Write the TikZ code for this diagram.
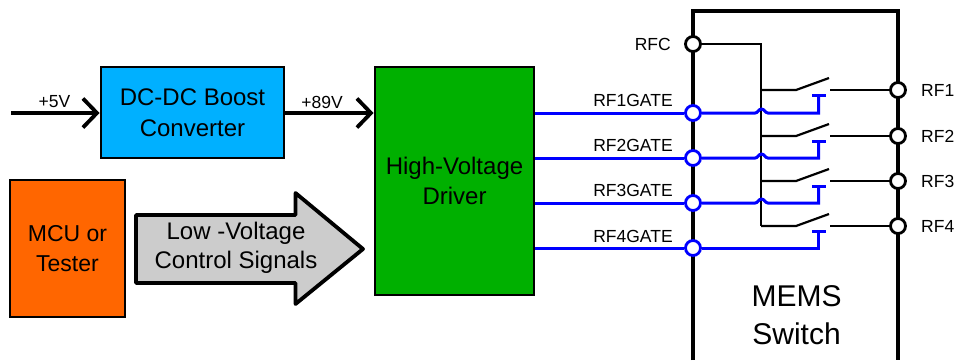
\documentclass[tikz,border=0pt]{standalone}
\usepackage{fontspec}
\setmainfont{Liberation Sans}
\usetikzlibrary{arrows.meta}
\definecolor{boostblue}{RGB}{0,176,255}
\definecolor{drivergreen}{RGB}{0,176,0}
\definecolor{mcuorange}{RGB}{255,102,0}
\definecolor{arrowgray}{RGB}{204,204,204}
\begin{document}
\begin{tikzpicture}
		[x=1pt,y=-1pt,
		every node/.style={align=center,inner sep=0pt},
		blockbox/.style={draw=black,line width=2.8pt,font=\fontsize{24}{31}\selectfont,minimum width=#1},
		smalltext/.style={font=\fontsize{17.5}{20}\selectfont},
		power/.style={line width=3.8pt,-{Straight Barb[length=14pt,width=29pt]}},
		wire/.style={line width=2.2pt},
		gatewire/.style={line width=3pt,draw=blue},
		port/.style={circle,draw=black,fill=white,line width=2.8pt,minimum size=15pt},
		gateport/.style={port,draw=blue},
		]

		\useasboundingbox (0,0) rectangle (957,360);

		\node[blockbox=183pt,fill=boostblue,minimum height=91pt] (boost) at (192.5,112.5) {DC-DC Boost\\Converter};
		\node[blockbox=159pt,fill=drivergreen,font=\fontsize{24}{30}\selectfont,minimum height=228pt] (driver) at (454.5,181) {High-Voltage\\Driver};
		\node[blockbox=115pt,fill=mcuorange,font=\fontsize{23}{30}\selectfont,minimum height=137pt] (mcu) at (67.5,248.5) {MCU or\\Tester};

		\draw[line width=3.8pt,line join=round,fill=arrowgray] (136,215) -- (295.5,215) -- (295.5,193) -- (363,249) -- (295.5,304) -- (295.5,283) -- (136,283) -- cycle;
		\node[font=\fontsize{24}{29}\selectfont] (signals) at (236,248) {Low -Voltage\\Control Signals};

		\coordinate (supply) at (11,113);
		\draw[power] (supply) -- (boost.west |- supply);
		\draw[power] (boost.east |- supply) -- (driver.west |- supply);
		\node[smalltext] (fivev) at (54.5,102) {+5V};
		\node[smalltext] (boostv) at (322,102) {+89V};

		% Gehaeuse des Schalters
		\coordinate (memsleft) at (693,360);
		\coordinate (memsright) at (898,360);
		\draw[line width=3.2pt] (memsleft) -- (693,11) -- (898,11) -- (memsright);
		\node[font=\fontsize{30}{38}\selectfont] (mems) at (796.5,315) {MEMS\\Switch};

		\coordinate (common) at (761,226);
		\node[port] (rfc) at (693,44) {};
		\draw[wire] (rfc) -- (common |- rfc) -- (common);
		\node[smalltext,anchor=east] (rfclabel) at (671,44) {RFC};

		\foreach \n/\y/\g/\t in {1/90/113/100,2/136/158/145,3/181/203/190,4/226/248/236}{
			\node[port] (rf\n) at (898,\y) {};
			\node[smalltext,anchor=west] (rf\n label) at (921,\y) {RF\n};
			\node[gateport] (gate\n) at (693,\g) {};
			\node[smalltext] (gate\n label) at (633,\t) {RF\n GATE};
			\coordinate (bar\n) at (818.5,\y+5);
			\draw[wire] (common |- rf\n) -- (796,\y) -- (829,\y-12);
			\draw[wire] (830,\y) -- (rf\n);
			\draw[gatewire] (driver.east |- gate\n) -- (gate\n);
			\draw[gatewire] (812,\y+5) -- (825.5,\y+5);
		}
		\foreach \n/\g in {1/113,2/158,3/203}{
			\draw[gatewire] (gate\n) -- (755,\g) .. controls (758,\g) and (758.5,\g-4) .. (761.5,\g-4) .. controls (764.5,\g-4) and (765,\g) .. (768,\g) -| (bar\n);
		}
		\draw[gatewire] (gate4) -| (bar4);
	\end{tikzpicture}
\end{document}
